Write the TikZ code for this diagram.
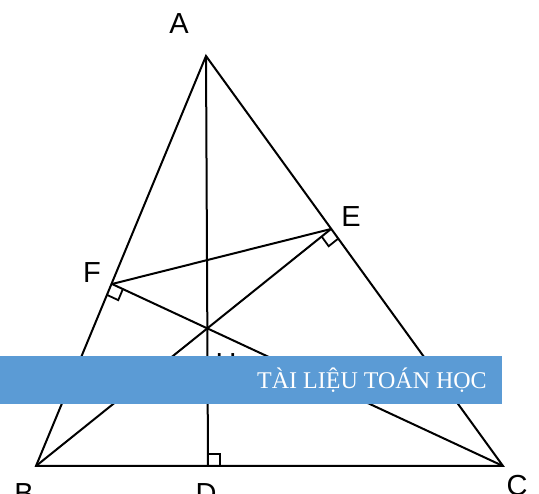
\documentclass[tikz,border=0pt]{standalone}
\usepackage{fontspec}
\setmainfont{Liberation Sans}
\newfontfamily\bannerfont{Liberation Serif}
\usetikzlibrary{calc}
\definecolor{bannerblue}{HTML}{5B9BD5}
\begin{document}
\begin{tikzpicture}[x=1pt,y=-1pt,
  seg/.style={line width=2pt,line join=miter},
  rmark/.style={line width=1.8pt},
  lbl/.style={font=\fontsize{29}{29}\selectfont,inner sep=0pt}]
\useasboundingbox (0,0) rectangle (539,494);
\coordinate (A) at (206,56);
\coordinate (B) at (36,466);
\coordinate (C) at (503,466);
\coordinate (D) at (208,466);
\coordinate (E) at (331,229);
\coordinate (F) at (112,284);
\coordinate (H) at (207,328);
\draw[seg] (A) -- (B) -- (C) -- cycle;
\draw[seg] (A) -- (D);
\draw[seg] (B) -- (E);
\draw[seg] (C) -- (F);
\draw[seg] (E) -- (F);
% right angle marks
\draw[rmark] ($(E)!12pt!(B)$) -- ++($(E)!12pt!(C)-(E)$) -- ($(E)!12pt!(C)$);
\draw[rmark] ($(F)!12pt!(C)$) -- ++($(F)!12pt!(B)-(F)$) -- ($(F)!12pt!(B)$);
\draw[rmark] ($(D)!12pt!(A)$) -- ++(12,0) -- ($(D)!12pt!(C)$);
\node[lbl] (lA) at (179,24) {A};
\node[lbl] (lE) at (351,217) {E};
\node[lbl] (lF) at (92,273) {F};
\node[lbl] (lH) at (226,364) {H};
\node[lbl] (lB) at (24,494) {B};
\node[lbl] (lD) at (206,494) {D};
\node[lbl] (lC) at (517,486) {C};
\fill[bannerblue] (0,356) rectangle (502,404);
\node[font=\bannerfont\fontsize{24}{24}\selectfont,text=white,inner sep=0pt] (title) at (372,380) {TÀI LIỆU TOÁN HỌC};
\end{tikzpicture}
\end{document}
